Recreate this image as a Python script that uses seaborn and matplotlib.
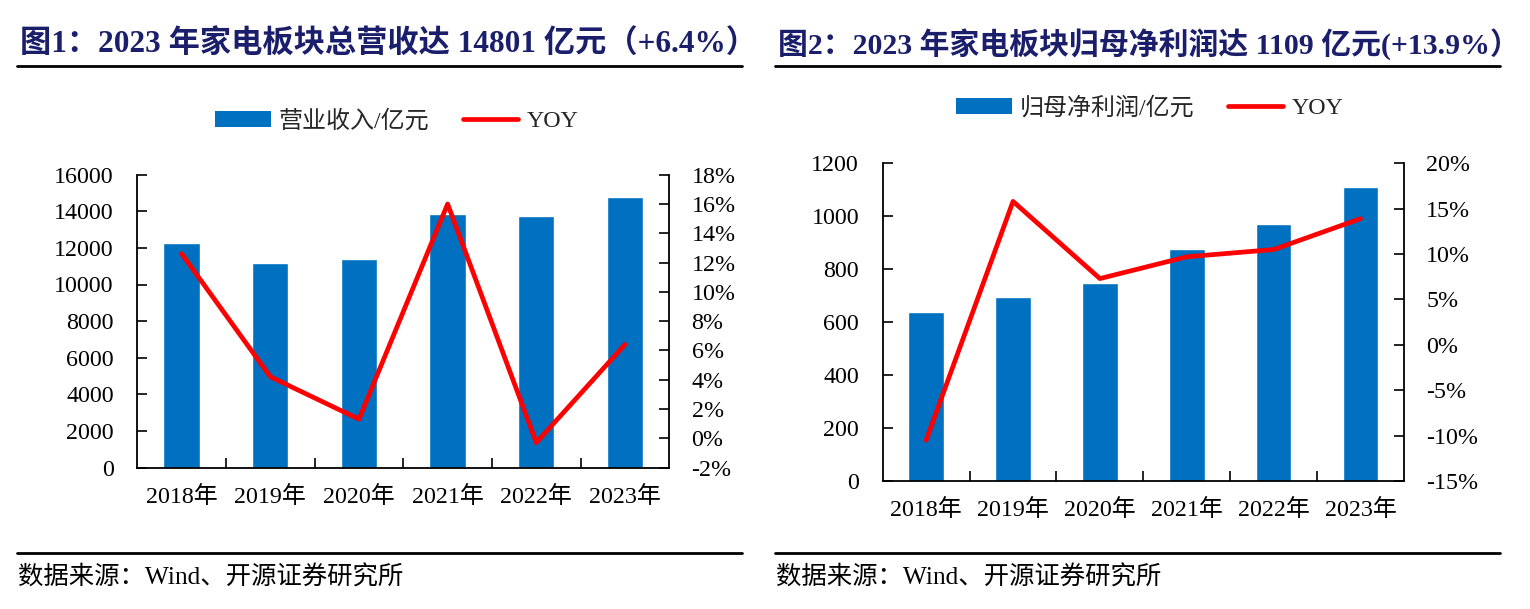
import matplotlib
matplotlib.use('Agg')
import matplotlib.pyplot as plt
import seaborn as sns
import pandas as pd
from matplotlib.lines import Line2D
from matplotlib.patches import Patch
from matplotlib.ticker import FuncFormatter, FixedLocator

# ---------------- data ----------------
years = ['2018年', '2019年', '2020年', '2021年', '2022年', '2023年']
revenue = [12270, 11150, 11390, 13850, 13760, 14801]      # 营业收入/亿元
revenue_yoy = [12.6, 4.2, 1.3, 16.0, -0.3, 6.4]           # YOY %
profit = [639, 696, 749, 875, 969, 1109]                  # 归母净利润/亿元
profit_yoy = [-10.5, 15.8, 7.3, 9.7, 10.5, 13.9]          # YOY %

title1 = '图1：2023 年家电板块总营收达 14801 亿元（+6.4%）'
title2 = '图2：2023 年家电板块归母净利润达 1109 亿元(+13.9%）'
bar_label1 = '营业收入/亿元'
bar_label2 = '归母净利润/亿元'
line_label = 'YOY'
source = '数据来源：Wind、开源证券研究所'

left_ticks1 = [0, 2000, 4000, 6000, 8000, 10000, 12000, 14000, 16000]
right_ticks1 = [-2, 0, 2, 4, 6, 8, 10, 12, 14, 16, 18]
left_ticks2 = [0, 200, 400, 600, 800, 1000, 1200]
right_ticks2 = [-15, -10, -5, 0, 5, 10, 15, 20]

# ---------------- style ----------------
sns.set_theme(style='ticks')
plt.rcParams['font.family'] = ['Liberation Serif', 'Noto Sans CJK SC']
plt.rcParams['axes.unicode_minus'] = False

BLUE = '#0070C0'
RED = '#FF0000'
NAVY = '#1B1F6B'
FS = 17.3
W, H = 1530, 609

fig = plt.figure(figsize=(W / 100, H / 100), dpi=100)
fig.patch.set_facecolor('white')


def fx(px):
    return px / W


def fy(py):
    return 1 - py / H


def panel(rect, values, yoy, lticks, rticks, bar_label, legend_xy):
    ax = fig.add_axes(rect)
    df = pd.DataFrame({'year': years, 'value': values, 'yoy': yoy})
    df['pos'] = range(len(df))
    sns.barplot(data=df, x='year', y='value', color=BLUE, saturation=1,
                width=0.41, ax=ax)
    axr = ax.twinx()
    sns.lineplot(data=df, x='pos', y='yoy', color=RED, linewidth=3.4,
                 ax=axr, legend=False)
    ax.set_xlim(-0.5, len(years) - 0.5)
    ax.set_ylim(lticks[0], lticks[-1])
    ax.set_yticks(lticks)
    axr.set_ylim(rticks[0], rticks[-1])
    axr.set_yticks(rticks)
    axr.yaxis.set_major_formatter(FuncFormatter(lambda v, _: f'{v:.0f}%'))
    for a in (ax, axr):
        a.set_xlabel('')
        a.set_ylabel('')
        a.spines['top'].set_visible(False)
        for s in ('left', 'right', 'bottom'):
            a.spines[s].set_color('black')
            a.spines[s].set_linewidth(1.3)
    ax.spines['right'].set_visible(False)
    axr.spines['left'].set_visible(False)
    axr.spines['bottom'].set_visible(False)
    ax.tick_params(axis='y', direction='in', length=7, width=1.2, pad=17,
                   labelsize=FS, colors='black')
    axr.tick_params(axis='y', direction='in', length=7, width=1.2, pad=16,
                    labelsize=FS, colors='black')
    ax.tick_params(axis='x', which='major', length=0, pad=13, labelsize=FS,
                   colors='black')
    ax.xaxis.set_minor_locator(FixedLocator([i + 0.5 for i in range(len(years) - 1)]))
    ax.tick_params(axis='x', which='minor', direction='in', length=7, width=1.2,
                   color='black')
    handles = [Patch(facecolor=BLUE, edgecolor='none'),
               Line2D([], [], color=RED, linewidth=3.4)]
    fig.legend(handles, [bar_label, line_label], loc='center',
               bbox_to_anchor=legend_xy, ncol=2, frameon=False, fontsize=FS,
               handlelength=2.3, handleheight=0.7, handletextpad=0.35,
               columnspacing=1.4)
    return ax, axr


panel([fx(137.3), fy(467.5), fx(669.3) - fx(137.3), fy(174.7) - fy(467.5)],
      revenue, revenue_yoy, left_ticks1, right_ticks1, bar_label1,
      (fx(397), fy(121)))
panel([fx(882.7), fy(481), fx(1404) - fx(882.7), fy(163.3) - fy(481)],
      profit, profit_yoy, left_ticks2, right_ticks2, bar_label2,
      (fx(1150), fy(108)))

# titles, rules, sources
for x0, x1, t, ts in ((17, 742, title1, 22.5), (775, 1500, title2, 21.5)):
    fig.text(fx(x0 + 3), fy(45), t, fontsize=ts, fontweight='bold', color=NAVY,
             ha='left', va='center')
    fig.add_artist(Line2D([fx(x0), fx(x1)], [fy(66), fy(66)], color='black',
                          linewidth=2, transform=fig.transFigure))
    fig.add_artist(Line2D([fx(x0), fx(x1)], [fy(553), fy(553)], color='black',
                          linewidth=2, transform=fig.transFigure))
    fig.text(fx(x0 + 1), fy(578), source, fontsize=18.3, color='black',
             ha='left', va='center')

fig.savefig('out.png', dpi=100, facecolor='white')
